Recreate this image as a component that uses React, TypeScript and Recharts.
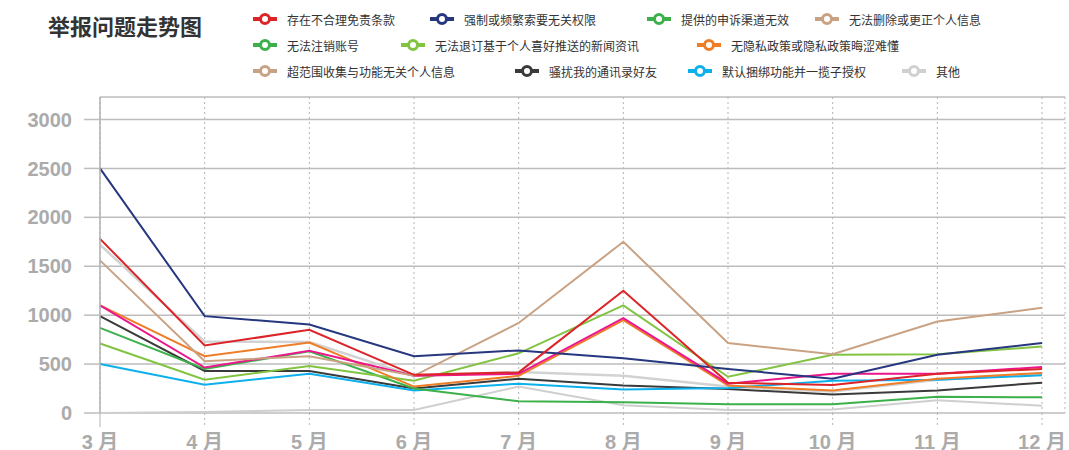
import { CartesianGrid, Line, LineChart, XAxis, YAxis } from "recharts";

const months = ["3 月", "4 月", "5 月", "6 月", "7 月", "8 月", "9 月", "10 月", "11 月", "12 月"];
const yTicks = [0, 500, 1000, 1500, 2000, 2500, 3000];

const mianze = [1780, 690, 850, 390, 415, 1250, 310, 285, 400, 450];
const suoyao = [2500, 990, 905, 580, 640, 560, 450, 350, 595, 715];
const shensu = [870, 450, 630, 250, 120, 110, 90, 90, 165, 160];
const shanchu = [1560, 530, 580, 380, 920, 1750, 715, 600, 935, 1075];
const zhuxiao = [1100, 465, 635, 380, 400, 970, 300, 400, 400, 470];
const tuiding = [710, 340, 480, 330, 610, 1100, 370, 595, 600, 680];
const yinsi = [1100, 580, 720, 270, 380, 950, 280, 230, 350, 410];
const chaofanwei = [1720, 730, 725, 380, 420, 380, 270, 220, 340, 400];
const saorao = [990, 430, 430, 250, 350, 280, 245, 190, 230, 310];
const kunbang = [500, 290, 400, 230, 300, 240, 255, 330, 340, 385];
const qita = [0, 10, 30, 30, 270, 80, 30, 35, 130, 75];

// series: key, legend name, values, line colour, legend colour
const series = [
  { key: "qita", name: "其他", values: qita, color: "#cfcfcf", legend: "#d0d0d0" },
  { key: "chaofanwei", name: "超范围收集与功能无关个人信息", values: chaofanwei, color: "#d2d2d2", legend: "#c9a283" },
  { key: "saorao", name: "骚扰我的通讯录好友", values: saorao, color: "#3a3a3a", legend: "#3a3a3a" },
  { key: "kunbang", name: "默认捆绑功能并一揽子授权", values: kunbang, color: "#0cb0ec", legend: "#0cb0ec" },
  { key: "shensu", name: "提供的申诉渠道无效", values: shensu, color: "#3cb04a", legend: "#3cb04a" },
  { key: "tuiding", name: "无法退订基于个人喜好推送的新闻资讯", values: tuiding, color: "#82c341", legend: "#82c341" },
  { key: "yinsi", name: "无隐私政策或隐私政策晦涩难懂", values: yinsi, color: "#ef7d27", legend: "#ef7d27" },
  { key: "zhuxiao", name: "无法注销账号", values: zhuxiao, color: "#ec168c", legend: "#3cb04a" },
  { key: "shanchu", name: "无法删除或更正个人信息", values: shanchu, color: "#c9a283", legend: "#c9a283" },
  { key: "suoyao", name: "强制或频繁索要无关权限", values: suoyao, color: "#26377f", legend: "#26377f" },
  { key: "mianze", name: "存在不合理免责条款", values: mianze, color: "#dc2327", legend: "#dc2327" },
];

const data = months.map((month, i) => {
  const row: Record<string, string | number> = { month };
  series.forEach((s) => {
    row[s.key] = s.values[i];
  });
  return row;
});

// legend placement as in the picture
const legendRows = [
  [["mianze", 253], ["suoyao", 430], ["shensu", 647], ["shanchu", 815]],
  [["zhuxiao", 253], ["tuiding", 401], ["yinsi", 697]],
  [["chaofanwei", 253], ["saorao", 515], ["kunbang", 688], ["qita", 902]],
] as const;
const legendY = [19, 45, 71];

function LegendIcon({ color }: { color: string }) {
  return (
    <svg width={24} height={14} style={{ display: "block" }}>
      <line x1={0} y1={7} x2={24} y2={7} stroke={color} strokeWidth={4} />
      <circle cx={12} cy={7} r={4.5} fill="#fff" stroke={color} strokeWidth={3} />
    </svg>
  );
}

function XTick(props: any) {
  const { x, y, payload, index } = props;
  return (
    <g>
      <line
        x1={x}
        y1={413}
        x2={x}
        y2={427}
        stroke="#b5b5b5"
        strokeWidth={1}
        strokeDasharray={index === 0 ? undefined : "2 3"}
      />
      <text
        x={x}
        y={y + 28}
        textAnchor="middle"
        fill="#ababab"
        fontSize={20}
        fontWeight="bold"
        fontFamily="'Liberation Sans', 'Noto Sans CJK SC', sans-serif"
      >
        {payload.value}
      </text>
    </g>
  );
}

export default function App() {
  return (
    <div style={{ position: "relative", width: 1069, height: 450, background: "#fff" }}>
      <style>{`body{margin:0}`}</style>
      <div
        style={{
          position: "absolute",
          left: 48,
          top: 9,
          fontSize: 22,
          fontWeight: "bold",
          color: "#333",
          fontFamily: "'Noto Sans CJK SC', sans-serif",
          lineHeight: "32px",
        }}
      >
        举报问题走势图
      </div>
      {legendRows.map((row, r) =>
        row.map(([key, left]) => {
          const s = series.find((item) => item.key === key)!;
          return (
            <div
              key={key}
              style={{
                position: "absolute",
                left,
                top: legendY[r] - 10,
                height: 20,
                display: "flex",
                alignItems: "center",
                gap: 10,
                fontSize: 12,
                color: "#333",
                fontFamily: "'Noto Sans CJK SC', sans-serif",
                whiteSpace: "nowrap",
              }}
            >
              <LegendIcon color={s.legend} />
              <span>{s.name}</span>
            </div>
          );
        })
      )}
      <div style={{ position: "absolute", left: 0, top: 0 }}>
        <LineChart width={1069} height={450} data={data} margin={{ top: 97, right: 4, bottom: 0, left: 0 }}>
          <CartesianGrid horizontal vertical={false} stroke="#bdbdbd" strokeWidth={1.5} />
          <CartesianGrid horizontal={false} vertical stroke="#b5b5b5" strokeDasharray="2 3" />
          <XAxis
            dataKey="month"
            height={37}
            padding={{ left: 0, right: 23 }}
            axisLine={false}
            tickLine={false}
            tick={<XTick />}
            interval={0}
          />
          <YAxis
            width={100}
            domain={[0, 3230]}
            ticks={yTicks}
            axisLine={{ stroke: "#b0b0b0", strokeWidth: 1.5 }}
            tickLine={{ stroke: "#bdbdbd", strokeWidth: 1.5 }}
            tickSize={16}
            tickMargin={12}
            tick={{
              fill: "#ababab",
              fontSize: 20,
              fontWeight: "bold",
              fontFamily: "'Liberation Sans', sans-serif",
            }}
          />
          {series.map((s) => (
            <Line
              key={s.key}
              type="linear"
              dataKey={s.key}
              name={s.name}
              stroke={s.color}
              strokeWidth={s.key === "chaofanwei" ? 2.5 : 2}
              dot={false}
              activeDot={false}
              isAnimationActive={false}
            />
          ))}
        </LineChart>
      </div>
    </div>
  );
}
